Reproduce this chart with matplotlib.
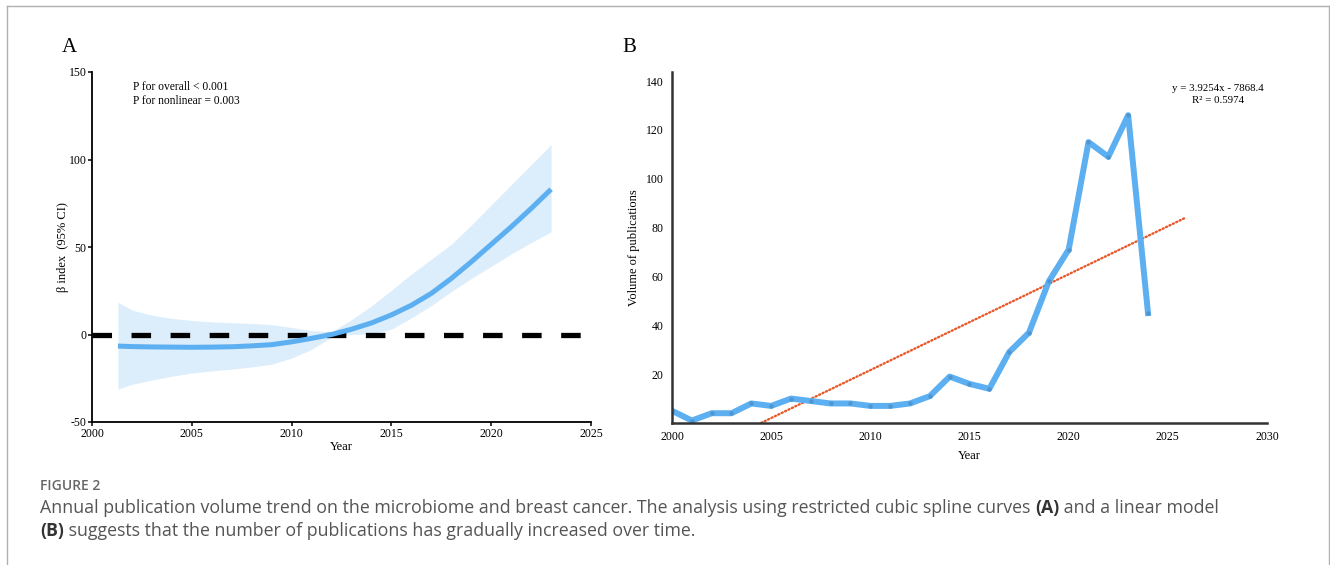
import matplotlib
matplotlib.use("Agg")
import matplotlib.pyplot as plt
from matplotlib.lines import Line2D

plt.rcParams["axes.unicode_minus"] = False

# panel A: restricted cubic spline
spline_years = [2001.3, 2002, 2003, 2004, 2005, 2006, 2007, 2008, 2009, 2010, 2011, 2012,
                2013, 2014, 2015, 2016, 2017, 2018, 2019, 2020, 2021, 2022, 2023]
spline_fit = [-6.6, -6.9, -7.1, -7.2, -7.3, -7.2, -7.0, -6.5, -5.8, -4.2, -2.2, 0.0,
              3.0, 6.6, 11.2, 16.7, 23.5, 32.0, 41.5, 51.5, 61.5, 72.0, 83.0]
spline_upper = [18.4, 14.0, 11.0, 9.2, 8.0, 7.2, 6.7, 6.3, 5.6, 4.0, 2.2, 1.5,
                8.5, 16.3, 25.3, 34.5, 43.0, 51.5, 62.5, 74.0, 85.5, 97.0, 108.5]
spline_lower = [-31.2, -28.5, -26.0, -23.8, -22.0, -20.8, -19.8, -18.5, -17.0, -13.5, -8.5, -1.5,
                0.0, 0.5, 3.0, 9.5, 16.5, 24.5, 32.0, 39.0, 46.0, 52.5, 58.7]
p_text = ["P for overall < 0.001", "P for nonlinear = 0.003"]

# panel B: annual publications
pub_years = list(range(2000, 2025))
pub_counts = [5, 1, 4, 4, 8, 7, 10, 9, 8, 8, 7, 7, 8, 11, 19, 16, 14, 29, 37, 58, 71, 115, 109, 126, 45]
trend_slope = 3.9254
trend_intercept = -7868.4
trend_span = [2004.5, 2025.9]
trend_text = ["y = 3.9254x - 7868.4", "R\u00b2 = 0.5974"]

caption_title = "FIGURE 2"
caption_lines = [
    "Annual publication volume trend on the microbiome and breast cancer. The analysis using restricted cubic spline curves ",
    " suggests that the number of publications has gradually increased over time.",
]

blue = "#5caff0"
serif = "Liberation Serif"

fig = plt.figure(figsize=(13.3, 5.65), dpi=100)
fig.patch.set_facecolor("white")

# ---- panel A ----
axA = fig.add_axes([92 / 1330, 1 - 422 / 565, 499 / 1330, 350 / 565])
axA.fill_between(spline_years, spline_lower, spline_upper, color="#dcedfb", lw=0)
axA.plot([2000, 2025], [0, 0], color="black", lw=3.8, dashes=(3.7, 3.7), solid_capstyle="butt")
axA.plot(spline_years, spline_fit, color=blue, lw=3.6, solid_capstyle="butt")
axA.set_xlim(2000, 2025)
axA.set_ylim(-50, 150)
axA.set_xticks(range(2000, 2026, 5))
axA.set_yticks(range(-50, 151, 50))
for s in ["top", "right"]:
    axA.spines[s].set_visible(False)
for s in ["left", "bottom"]:
    axA.spines[s].set_linewidth(1.3)
axA.tick_params(length=3, width=1.1, pad=1, labelsize=8.5)
for lab in axA.get_xticklabels() + axA.get_yticklabels():
    lab.set_fontfamily(serif)
axA.set_xlabel("Year", fontfamily=serif, fontsize=9, labelpad=1)
axA.set_ylabel("\u03b2 index  (95% CI)", fontfamily=serif, fontsize=9, labelpad=0)
axA.text(0.083, 0.975, p_text[0], transform=axA.transAxes, fontfamily=serif, fontsize=8.3, va="top")
axA.text(0.083, 0.935, p_text[1], transform=axA.transAxes, fontfamily=serif, fontsize=8.3, va="top")
fig.text(62 / 1330, 1 - 48 / 565, "A", fontfamily=serif, fontsize=15, va="center")

# ---- panel B ----
axB = fig.add_axes([672 / 1330, 1 - 423 / 565, 595 / 1330, 351 / 565])
tx = trend_span
ty = [trend_slope * x + trend_intercept for x in tx]
axB.plot(tx, ty, color="#e8592a", lw=1.7, ls=(0, (0.5, 1.1)), dash_capstyle="round")
axB.plot(pub_years, pub_counts, color=blue, lw=4.3, solid_joinstyle="round",
         marker="o", markersize=3.2, markerfacecolor="#4f95d0", markeredgewidth=0)
axB.set_xlim(2000, 2030)
axB.set_ylim(0, 143.7)
axB.set_xticks(range(2000, 2031, 5))
axB.set_yticks(range(20, 141, 20))
for s in ["top", "right"]:
    axB.spines[s].set_visible(False)
for s in ["left", "bottom"]:
    axB.spines[s].set_linewidth(1.8)
    axB.spines[s].set_color("#333333")
axB.tick_params(length=0, pad=6, labelsize=8.5)
for lab in axB.get_xticklabels() + axB.get_yticklabels():
    lab.set_fontfamily(serif)
axB.set_xlabel("Year", fontfamily=serif, fontsize=9, labelpad=5)
axB.set_ylabel("Volume of publications", fontfamily=serif, fontsize=9, labelpad=4)
axB.text(0.917, 0.952, trend_text[0], transform=axB.transAxes, fontfamily=serif, fontsize=7.8,
         ha="center", va="center")
axB.text(0.917, 0.918, trend_text[1], transform=axB.transAxes, fontfamily=serif, fontsize=7.8,
         ha="center", va="center")
fig.text(622 / 1330, 1 - 48 / 565, "B", fontfamily=serif, fontsize=15, va="center")

# ---- caption ----
cap_color = "#555555"
cap_size = 12.8
fig.text(40 / 1330, 1 - 486 / 565, caption_title, fontfamily="Open Sans", fontsize=10,
         color="#666666", va="center", fontweight="semibold")
t1 = fig.text(40 / 1330, 1 - 508 / 565, caption_lines[0], fontfamily="Open Sans", fontsize=cap_size,
              color=cap_color, va="center")
fig.canvas.draw()
bb = t1.get_window_extent()
tA = fig.text(bb.x1 / 1330, 1 - 508 / 565, "(A)", fontfamily="Open Sans", fontsize=cap_size,
              color="#333333", va="center", fontweight="bold")
fig.canvas.draw()
bbA = tA.get_window_extent()
fig.text(bbA.x1 / 1330, 1 - 508 / 565, " and a linear model", fontfamily="Open Sans", fontsize=cap_size,
         color=cap_color, va="center")
tB = fig.text(40 / 1330, 1 - 531 / 565, "(B)", fontfamily="Open Sans", fontsize=cap_size,
              color="#333333", va="center", fontweight="bold")
fig.canvas.draw()
bbB = tB.get_window_extent()
fig.text(bbB.x1 / 1330, 1 - 531 / 565, caption_lines[1], fontfamily="Open Sans", fontsize=cap_size,
         color=cap_color, va="center")

# frame around the figure (open at the bottom)
frame = "#b0b0b0"
fig.add_artist(Line2D([7 / 1330, 7 / 1330], [0, 1 - 6 / 565], color=frame, lw=1))
fig.add_artist(Line2D([7 / 1330, 1329 / 1330], [1 - 6 / 565, 1 - 6 / 565], color=frame, lw=1))
fig.add_artist(Line2D([1329 / 1330, 1329 / 1330], [0, 1 - 6 / 565], color=frame, lw=1))

fig.savefig("out.png", dpi=100)
